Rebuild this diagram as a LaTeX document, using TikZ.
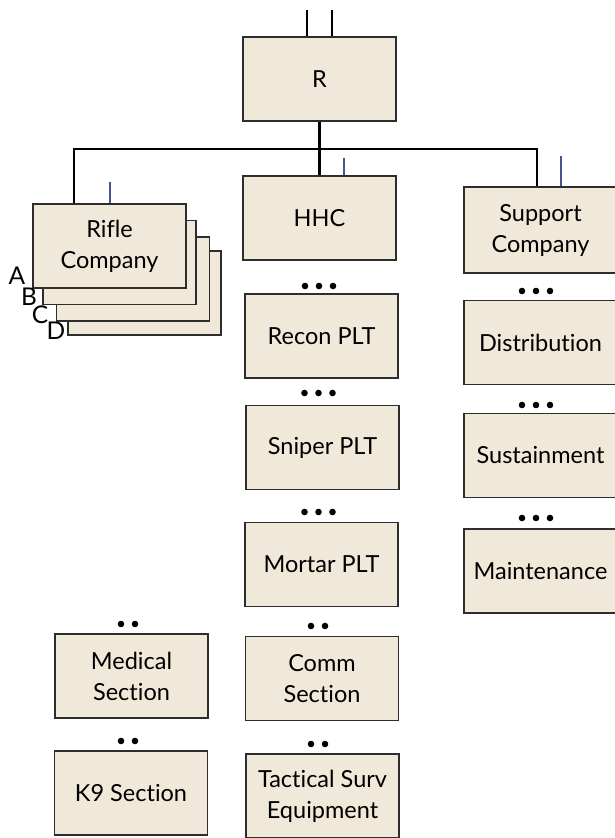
\documentclass[tikz,border=0pt]{standalone}
\usepackage{fontspec}
\newfontfamily\unitfont[Ligatures=NoCommon]{Lato}
\usepackage{tikz}
\usetikzlibrary{positioning,calc}
\definecolor{boxfill}{RGB}{240,232,217}
\definecolor{boxline}{RGB}{45,45,45}
\definecolor{tickblue}{RGB}{72,82,140}

\begin{document}
\begin{tikzpicture}[
  x=1pt, y=-1pt,
  every node/.style={font=\unitfont\fontsize{23.5}{31}\selectfont, inner sep=0pt},
  unit/.style   ={draw=boxline, fill=boxfill, line width=1.3pt, align=center,
                  minimum width=153pt, minimum height=84pt},
  link/.style   ={draw=black, line width=2.6pt},
  tickmark/.style={draw=tickblue, line width=2pt},
  letter/.style ={anchor=center, font=\unitfont\fontsize{24.5}{31}\selectfont}]

\useasboundingbox (0,0) rectangle (615,838);

% n dots, spaced 14pt, centred on (x,y)
\newcommand{\unitdots}[3]{%
  \foreach \i in {1,...,#1}{\fill[black] (#2+14*\i-7*#1-7,#3) circle[radius=3.3];}}

% =========================  headquarters  ============================
\node[unit] (R) at (319.5,79) {R};
\coordinate (inA) at (307,10);
\coordinate (inB) at (332,10);
\draw[link] (inA) -- (inA |- R.north);
\draw[link] (inB) -- (inB |- R.north);

% ========================  rifle companies  ==========================
\node[unit] (rifleD) at (144.5,293) {};
\node[unit] (rifleC) at (133,279) {};
\node[unit] (rifleB) at (119.5,262.5) {};
\node[unit] (rifleA) at (109.5,246) {Rifle\\Company};
\node[letter] (labA) at (17,276) {A};
\node[letter] (labB) at (29,297) {B};
\node[letter] (labC) at (40,315) {C};
\node[letter] (labD) at (56,331) {D};

% ===========================  HHC column  ============================
\node[unit] (hhc)      at (319.5,218) {HHC};
\node[unit] (recon)    at (321.5,336) {Recon PLT};
\node[unit] (sniper)   at (322.5,447.5) {Sniper PLT};
\node[unit] (mortar)   at (321.5,564.5) {Mortar PLT};
\node[unit] (comm)     at (322,678.5) {Comm\\Section};
\node[unit] (tactical) at (322.5,796) {Tactical Surv\\Equipment};
\unitdots{3}{319}{286}
\unitdots{3}{318.5}{393}
\unitdots{3}{318.5}{512}
\unitdots{2}{318}{626}
\unitdots{2}{318}{744}

% =========================  support column  ==========================
\node[unit, minimum height=86pt] (support) at (540.5,230) {Support\\Company};
\node[unit] (distribution) at (540.5,342.5) {Distribution};
\node[unit] (sustainment)  at (540.5,455.5) {Sustainment};
\node[unit] (maintenance)  at (540.5,571) {Maintenance};
\unitdots{3}{536}{291}
\unitdots{3}{536}{405}
\unitdots{3}{536}{518}

% ==========================  sections  ===============================
\node[unit] (medical) at (131.5,676) {Medical\\Section};
\node[unit] (knine)   at (131,793) {K9 Section};
\unitdots{2}{128}{624}
\unitdots{2}{128}{741}

% ==========================  connectors  =============================
\coordinate (busL) at (74,149);
\coordinate (busR) at (537,149);
\draw[link] (R.south) -- (hhc.north);
\draw[link] (rifleA.north -| busL) -- (busL) -- (busR) -- (support.north -| busR);

\draw[tickmark] (rifleA.north) -- ++(0,-21);
\draw[tickmark] ([xshift=24pt]hhc.north) -- ++(0,-17);
\draw[tickmark] ([xshift=20pt]support.north) -- ++(0,-30);

\end{tikzpicture}
\end{document}
